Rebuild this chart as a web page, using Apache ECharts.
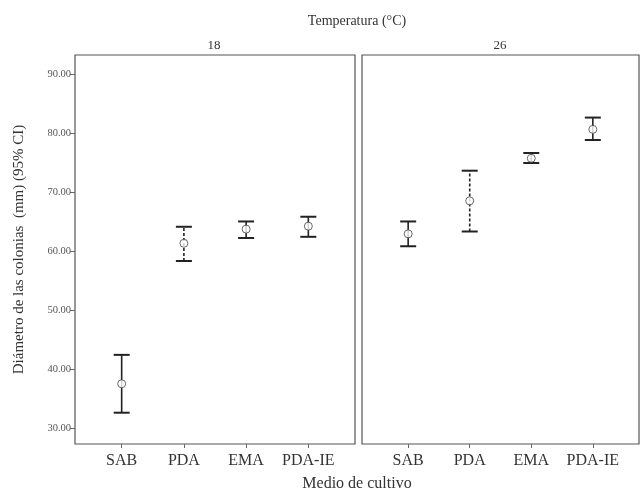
<!DOCTYPE html>
<html>
<head>
<meta charset="utf-8">
<script src="https://cdn.jsdelivr.net/npm/echarts@6/dist/echarts.min.js"></script>
<style>html,body{margin:0;padding:0;background:#fff;}#c{width:642px;height:493px;}</style>
</head>
<body>
<div id="c"></div>
<script>
var categories = ['SAB', 'PDA', 'EMA', 'PDA-IE'];
var temperatures = ['18', '26'];
var yTicks = [30, 40, 50, 60, 70, 80, 90];
var mean18 = [37.5, 61.3, 63.7, 64.2];
var low18 = [32.6, 58.3, 62.2, 62.4];
var high18 = [42.4, 64.1, 65.0, 65.8];
var mean26 = [62.9, 68.5, 75.7, 80.6];
var low26 = [60.8, 63.3, 74.9, 78.8];
var high26 = [65.0, 73.6, 76.6, 82.6];

var FONT = '"Liberation Serif", "DejaVu Serif", serif';
var chart = echarts.init(document.getElementById('c'), null, {renderer: 'canvas'});

function ebData(lo, hi) {
  return categories.map(function (c, i) { return [i, lo[i], hi[i]]; });
}
function mData(m) {
  return categories.map(function (c, i) { return [i, m[i]]; });
}
function renderEB(params, api) {
  var x = api.value(0);
  var lo = api.coord([x, api.value(1)]);
  var hi = api.coord([x, api.value(2)]);
  var hw = 8;
  var dashed = (x === 1);
  var st = {stroke: '#222', lineWidth: 1.6, lineDash: dashed ? [3, 2] : null};
  return {
    type: 'group',
    children: [
      {type: 'line', shape: {x1: lo[0], y1: lo[1], x2: hi[0], y2: hi[1]}, style: st},
      {type: 'line', shape: {x1: hi[0] - hw, y1: hi[1], x2: hi[0] + hw, y2: hi[1]}, style: {stroke: '#222', lineWidth: 2}},
      {type: 'line', shape: {x1: lo[0] - hw, y1: lo[1], x2: lo[0] + hw, y2: lo[1]}, style: {stroke: '#222', lineWidth: 2}}
    ]
  };
}

function xAxis(idx) {
  return {
    type: 'value', gridIndex: idx, min: -0.75, max: 3.75,
    splitLine: {show: false},
    axisLine: {show: false, onZero: false},
    axisTick: {show: true, customValues: [0, 1, 2, 3], length: 4, lineStyle: {color: '#666'}},
    axisLabel: {
      customValues: [0, 1, 2, 3], margin: 9,
      formatter: function (v) { return categories[Math.round(v)]; },
      fontFamily: FONT, fontSize: 16, color: '#333'
    }
  };
}
function yAxis(idx, showLabels) {
  var a = {
    type: 'value', gridIndex: idx, min: 27.3, max: 93.2,
    splitLine: {show: false},
    axisLine: {show: false, onZero: false},
    axisTick: {show: showLabels, customValues: yTicks, length: 5, lineStyle: {color: '#666'}},
    axisLabel: {
      show: showLabels, customValues: yTicks, margin: 4,
      formatter: function (v) { return v.toFixed(2); },
      fontFamily: FONT, fontSize: 10.5, color: '#555'
    }
  };
  if (showLabels) {
    a.name = 'Diámetro de las colonias  (mm) (95% CI)';
    a.nameLocation = 'middle';
    a.nameRotate = 90;
    a.nameGap = 48;
    a.nameTextStyle = {fontFamily: FONT, fontSize: 15, color: '#333'};
  }
  return a;
}

var option = {
  backgroundColor: '#fff',
  animation: false,
  grid: [
    {left: 75, top: 55, width: 280, height: 389, show: true, borderColor: '#555', borderWidth: 1.2, backgroundColor: 'transparent'},
    {left: 362, top: 55, width: 277, height: 389, show: true, borderColor: '#555', borderWidth: 1.2, backgroundColor: 'transparent'}
  ],
  xAxis: [xAxis(0), xAxis(1)],
  yAxis: [yAxis(0, true), yAxis(1, false)],
  graphic: [
    {type: 'text', x: 357, y: 21, style: {text: 'Temperatura (°C)', font: '14px ' + FONT, fill: '#333', textAlign: 'center', textVerticalAlign: 'middle'}},
    {type: 'text', x: 214, y: 46, style: {text: temperatures[0], font: '13px ' + FONT, fill: '#333', textAlign: 'center', textVerticalAlign: 'middle'}},
    {type: 'text', x: 500, y: 46, style: {text: temperatures[1], font: '13px ' + FONT, fill: '#333', textAlign: 'center', textVerticalAlign: 'middle'}},
    {type: 'text', x: 357, y: 484, style: {text: 'Medio de cultivo', font: '16px ' + FONT, fill: '#333', textAlign: 'center', textVerticalAlign: 'middle'}}
  ],
  series: [
    {type: 'custom', xAxisIndex: 0, yAxisIndex: 0, renderItem: renderEB, data: ebData(low18, high18), z: 2},
    {type: 'custom', xAxisIndex: 1, yAxisIndex: 1, renderItem: renderEB, data: ebData(low26, high26), z: 2},
    {type: 'scatter', xAxisIndex: 0, yAxisIndex: 0, symbol: 'circle', symbolSize: 8, itemStyle: {color: '#fff', borderColor: '#444', borderWidth: 1}, data: mData(mean18), z: 3},
    {type: 'scatter', xAxisIndex: 1, yAxisIndex: 1, symbol: 'circle', symbolSize: 8, itemStyle: {color: '#fff', borderColor: '#444', borderWidth: 1}, data: mData(mean26), z: 3}
  ]
};
chart.setOption(option);
</script>
</body>
</html>
